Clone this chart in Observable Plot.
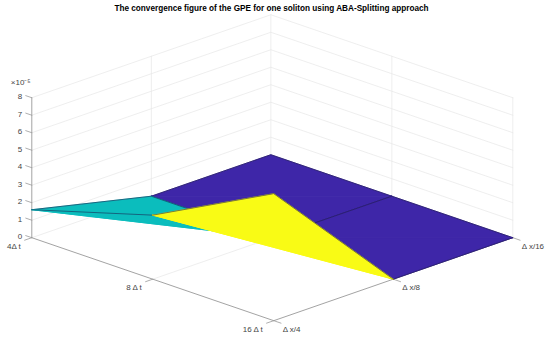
<!DOCTYPE html>
<html>
<head>
<meta charset="utf-8">
<script src="https://cdn.jsdelivr.net/npm/d3@7"></script>
<script src="https://cdn.jsdelivr.net/npm/@observablehq/plot@0.6"></script>
<style>
  html, body { margin: 0; padding: 0; background: #fff; }
  figure { margin: 0; }
  h2 {
    margin: 0; height: 14px; padding: 4px 7px 0 0; box-sizing: border-box;
    font: 700 8.2px/10px "Liberation Sans", sans-serif; color: #000; text-align: center;
  }
</style>
</head>
<body>
<div id="chart"></div>
<script>
// Surface heights (units of 1e-5): one row per time step, one column per space step
const zAt4dt = [1.6, 0, 0];
const zAt8dt = [3.66, 0, 0];
const zAt16dt = [7.26, 0, 0];
const zRows = [zAt4dt, zAt8dt, zAt16dt];

const timeLabels = ["4\u0394 t", "8 \u0394 t", "16 \u0394 t"];
const spaceLabels = ["\u0394 x/4", "\u0394 x/8", "\u0394 x/16"];
const zTicks = [0, 1, 2, 3, 4, 5, 6, 7, 8];
const titleText = "The convergence figure of the GPE for one soliton using ABA-Splitting approach";
const exponentLabel = "\u00d710\u207b\u2075";
const faceColors = ["#3e26a8", "#0bbdbd", "#f9fb15"];

// Oblique view of the box
const px = (d) => 1.006 * d.u + 0.994 * d.v;
const py = (d) => 0.345 * (d.v - d.u) + 0.1455 * d.z;
const P = (u, v, z = 0) => ({u, v, z});
const S = (u, v) => P(u, v, zRows[u][v]);
const seg = (data, options) => Plot.line(data, {x: px, y: py, ...options});

// Grid
const gridLines = [];
for (const z of zTicks) gridLines.push([P(0, 0, z), P(0, 2, z), P(2, 2, z)]);
for (const v of [1, 2]) gridLines.push([P(0, v, 0), P(0, v, 8)]);
for (const u of [1, 2]) gridLines.push([P(u, 2, 0), P(u, 2, 8)]);
gridLines.push([P(1, 0), P(1, 2)], [P(0, 1), P(2, 1)]);

// Surface: far-to-near cells, each split along its diagonal into a far and a near triangle
const cells = [[0, 1], [1, 1], [0, 0], [1, 0]];
const triangles = cells.flatMap(([u, v]) => {
  const value = zRows[u + 1][v];
  return [
    {value, points: [S(u, v), S(u, v + 1), S(u + 1, v + 1)]},
    {value, points: [S(u, v), S(u + 1, v), S(u + 1, v + 1)]}
  ];
});
const faceColor = d3.scaleLinear().domain([0, 3.66, 7.26]).range(faceColors);

// Axes
const axisLines = [[P(0, 0, 0), P(0, 0, 8)], [P(0, 0), P(2, 0), P(2, 2)]];
const tickLines = [
  ...zTicks.map((z) => [P(0, 0, z), P(-0.05, 0, z)]),
  ...timeLabels.map((_, u) => [P(u, 0), P(u, -0.06)]),
  ...spaceLabels.map((_, v) => [P(2, v), P(2.06, v)])
];

const textBase = {x: px, y: py, fontSize: 8, fill: "#444", fontFamily: "Liberation Sans", lineAnchor: "middle"};

const chart = Plot.plot({
  title: titleText,
  width: 550,
  height: 327,
  margin: 0,
  style: {background: "#fff", overflow: "visible"},
  x: {domain: [0, 1], range: [31.3, 151.55], axis: null},
  y: {domain: [0, 1], range: [223.2, 102.95], axis: null},
  color: {type: "linear", domain: [0, 3.66, 7.26], range: faceColors},
  marks: [
    ...gridLines.map((g) => seg(g, {stroke: "#e6e6e6", strokeWidth: 0.7})),
    ...axisLines.map((g) => seg(g, {stroke: "#999", strokeWidth: 0.9})),
    ...tickLines.map((g) => seg(g, {stroke: "#999", strokeWidth: 0.8})),
    ...triangles.flatMap((t) => [
      seg([...t.points, t.points[0]], {fill: () => t.value, stroke: faceColor(t.value), strokeWidth: 0.9}),
      seg(t.points, {stroke: "#1c1a4a", strokeWidth: 0.55})
    ]),
    Plot.text(zTicks, {...textBase, x: () => 0, y: (z) => py(P(0, 0, z)), text: (z) => String(z), textAnchor: "end", dx: -9.5, dy: -1}),
    Plot.text(timeLabels, {...textBase, x: (_, u) => px(P(u, 0)), y: (_, u) => py(P(u, 0)), text: (d) => d, textAnchor: "end", dx: -11, dy: 8.5}),
    Plot.text(spaceLabels, {...textBase, x: (_, v) => px(P(2, v)), y: (_, v) => py(P(2, v)), text: (d) => d, textAnchor: "start", dx: 9, dy: 8.5}),
    Plot.text([exponentLabel], {...textBase, x: () => 0, y: () => py(P(0, 0, 8)), text: (d) => d, textAnchor: "start", dx: -21, dy: -15})
  ]
});
document.getElementById("chart").append(chart);
</script>
</body>
</html>
